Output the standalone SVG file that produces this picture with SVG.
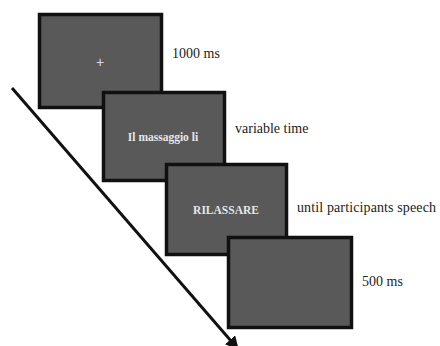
<svg xmlns="http://www.w3.org/2000/svg" width="440" height="346" viewBox="0 0 440 346">
<style>
.box{fill:#595959;stroke:#111;stroke-width:3.5}
.lbl{font-family:'Liberation Serif',serif;font-size:14px;fill:#222}
.in{font-family:'Liberation Serif',serif;font-size:11.5px;font-weight:bold;fill:#e6e6e6;text-anchor:middle}
</style>
<defs>
<marker id="ah" viewBox="0 0 10 10" refX="9" refY="5" markerWidth="4.5" markerHeight="4.5" orient="auto" markerUnits="strokeWidth">
<path d="M0,0 L10,5 L0,10 z" fill="#111"/>
</marker>
</defs>
<rect width="440" height="346" fill="#fff"/>
<g id="connectors">
<line x1="12" y1="88" x2="238" y2="349" stroke="#111" stroke-width="3" marker-end="url(#ah)"/>
</g>
<g id="n1">
<rect class="box" x="39.5" y="14.5" width="122" height="93"/>
<text x="100" y="67" font-family="Liberation Sans, sans-serif" font-size="14" fill="#ddd" text-anchor="middle">+</text>
<text class="lbl" x="172" y="58">1000 ms</text>
</g>
<g id="n2">
<rect class="box" x="103.5" y="92.5" width="121" height="88"/>
<text class="in" x="163" y="141">Il massaggio li</text>
<text class="lbl" x="235" y="133">variable time</text>
</g>
<g id="n3">
<rect class="box" x="166.5" y="164.5" width="120" height="90"/>
<text class="in" x="226" y="214">RILASSARE</text>
<text class="lbl" x="297" y="212" textLength="139">until participants speech</text>
</g>
<g id="n4">
<rect class="box" x="228.5" y="237.5" width="123" height="90"/>
<text class="lbl" x="362" y="286">500 ms</text>
</g>
</svg>
